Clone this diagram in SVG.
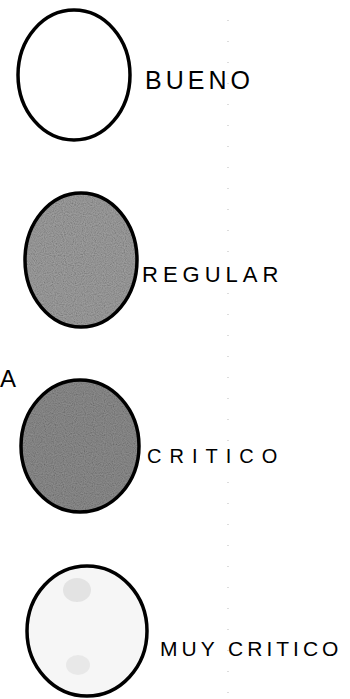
<svg xmlns="http://www.w3.org/2000/svg" width="350" height="699" viewBox="0 0 350 699">
<style>
.c{stroke:#000;stroke-width:3.5;fill:none}
.t{font-family:"Liberation Sans",Arial,sans-serif;fill:#000}
</style>
<defs>
<filter id="grain" x="-0.1" y="-0.1" width="1.2" height="1.2">
<feTurbulence type="fractalNoise" baseFrequency="0.9" numOctaves="1" seed="3" result="n"/>
<feColorMatrix in="n" type="saturate" values="0" result="g"/>
<feComposite in="g" in2="SourceGraphic" operator="in" result="m"/>
<feBlend in="SourceGraphic" in2="m" mode="multiply"/>
</filter>
</defs>
<rect width="350" height="699" fill="#fff"/>
<line x1="228" y1="20" x2="228" y2="699" stroke="#bbb" stroke-width="1" stroke-dasharray="1 20"/>
<g id="bueno">
<ellipse class="c" cx="74" cy="75" rx="56" ry="65"/>
<text class="t" x="145" y="89" font-size="25" letter-spacing="4">BUENO</text>
</g>
<g id="regular">
<ellipse cx="81" cy="260" rx="56" ry="67" fill="#a6a6a6" filter="url(#grain)"/>
<ellipse class="c" cx="81" cy="260" rx="56" ry="67"/>
<text class="t" x="142" y="282" font-size="22" letter-spacing="5">REGULAR</text>
</g>
<g id="critico">
<text class="t" x="0" y="387" font-size="24">A</text>
<ellipse cx="80" cy="446" rx="59" ry="66" fill="#939393" filter="url(#grain)"/>
<ellipse class="c" cx="80" cy="446" rx="59" ry="66"/>
<text class="t" x="147" y="463" font-size="20" letter-spacing="8">CRITICO</text>
</g>
<g id="muy-critico">
<ellipse cx="87" cy="631" rx="60" ry="65" fill="#f6f6f6"/>
<ellipse cx="77" cy="590" rx="14" ry="12" fill="#dcdcdc" opacity="0.7"/>
<ellipse cx="78" cy="665" rx="12" ry="10" fill="#e2e2e2" opacity="0.7"/>
<ellipse class="c" cx="87" cy="631" rx="60" ry="65"/>
<text class="t" x="160" y="656" font-size="21" letter-spacing="4">MUY CRITICO</text>
</g>
</svg>
